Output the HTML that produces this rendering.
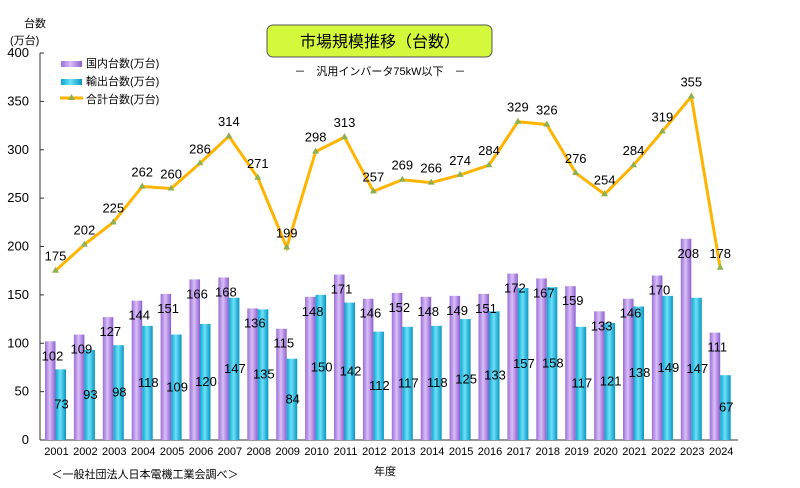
<!DOCTYPE html>
<html><head><meta charset="utf-8"><style>
body{margin:0;background:#fff}
svg{display:block;font-family:"Liberation Sans","Noto Sans CJK JP",sans-serif}
</style></head><body>
<svg id="c" width="800" height="488" xmlns="http://www.w3.org/2000/svg">
<defs>
<linearGradient id="gp" x1="0" x2="1"><stop offset="0" stop-color="#9b6fd8"/><stop offset="0.45" stop-color="#d9bff8"/><stop offset="1" stop-color="#8e5fce"/></linearGradient>
<linearGradient id="gc" x1="0" x2="1"><stop offset="0" stop-color="#0aa6cf"/><stop offset="0.45" stop-color="#6fe0f8"/><stop offset="1" stop-color="#0596c2"/></linearGradient>
</defs>
<rect x="267" y="25" width="225" height="32" rx="6" fill="#d4f83c" stroke="#555" stroke-width="1"/>
<text x="380" y="47" font-size="16" text-anchor="middle" fill="#000">市場規模推移（台数）</text>
<text x="380" y="75" font-size="11" text-anchor="middle">－　汎用インバータ75kW以下　－</text>
<text x="24" y="27" font-size="11">台数</text>
<text x="10" y="44" font-size="11">(万台)</text>
<rect x="61" y="61" width="21" height="6" fill="url(#gp)"/><text x="86" y="67" font-size="11">国内台数(万台)</text>
<rect x="61" y="79" width="21" height="6" fill="url(#gc)"/><text x="86" y="85" font-size="11">輸出台数(万台)</text>
<line x1="60" y1="98" x2="83" y2="98" stroke="#ffb400" stroke-width="3"/><polygon points="71.5,94 75,100 68,100" fill="#8fb050"/><text x="86" y="103" font-size="11">合計台数(万台)</text>
<g id="g"></g>
<text x="385" y="475" font-size="11" text-anchor="middle">年度</text>
<text x="145" y="478" font-size="11" text-anchor="middle">＜一般社団法人日本電機工業会調べ＞</text>
</svg>
<script>
var d=[[102,73],[109,93],[127,98],[144,118],[151,109],[166,120],[168,147],[136,135],[115,84],[148,150],[171,142],[146,112],[152,117],[148,118],[149,125],[151,133],[172,157],[167,158],[159,117],[133,121],[146,138],[170,149],[208,147],[111,67]];
var tot=[175,202,225,262,260,286,314,271,199,298,313,257,269,266,274,284,329,326,276,254,284,319,355,178];
var Y=v=>440-v*0.9675,s='';
s+='<line x1="40" y1="53" x2="40" y2="440" stroke="#333"/><line x1="40" y1="440" x2="738" y2="440" stroke="#333"/>';
for(var t=0;t<=400;t+=50){var y=Y(t);s+='<line x1="40" y1="'+y+'" x2="44" y2="'+y+'" stroke="#333"/><text x="29" y="'+(y+4)+'" font-size="13" text-anchor="end">'+t+'</text>';}
var pts=[];
d.forEach(function(r,i){var c=55.5+i*28.9;
s+='<rect x="'+(c-10.5)+'" y="'+Y(r[0])+'" width="10.5" height="'+(440-Y(r[0]))+'" fill="url(#gp)"/>';
s+='<rect x="'+c+'" y="'+Y(r[1])+'" width="10.5" height="'+(440-Y(r[1]))+'" fill="url(#gc)"/>';
s+='<text x="'+(c-3)+'" y="'+(Y(r[0])+19)+'" font-size="13" text-anchor="middle">'+r[0]+'</text>';
s+='<text x="'+(c+6)+'" y="'+((Y(r[1])+440)/2+4)+'" font-size="13" text-anchor="middle">'+r[1]+'</text>';
s+='<text x="'+(c+1)+'" y="455" font-size="11" text-anchor="middle">'+(2001+i)+'</text>';
pts.push(c+','+Y(tot[i]));});
s+='<polyline points="'+pts.join(' ')+'" fill="none" stroke="#ffb400" stroke-width="3"/>';
tot.forEach(function(v,i){var c=55.5+i*28.9,y=Y(v);s+='<polygon points="'+c+','+(y-4)+' '+(c+3.5)+','+(y+2)+' '+(c-3.5)+','+(y+2)+'" fill="#8fb050"/><text x="'+c+'" y="'+(y-10)+'" font-size="13" text-anchor="middle">'+v+'</text>';});
document.getElementById('g').innerHTML=s;
</script>
</body></html>
